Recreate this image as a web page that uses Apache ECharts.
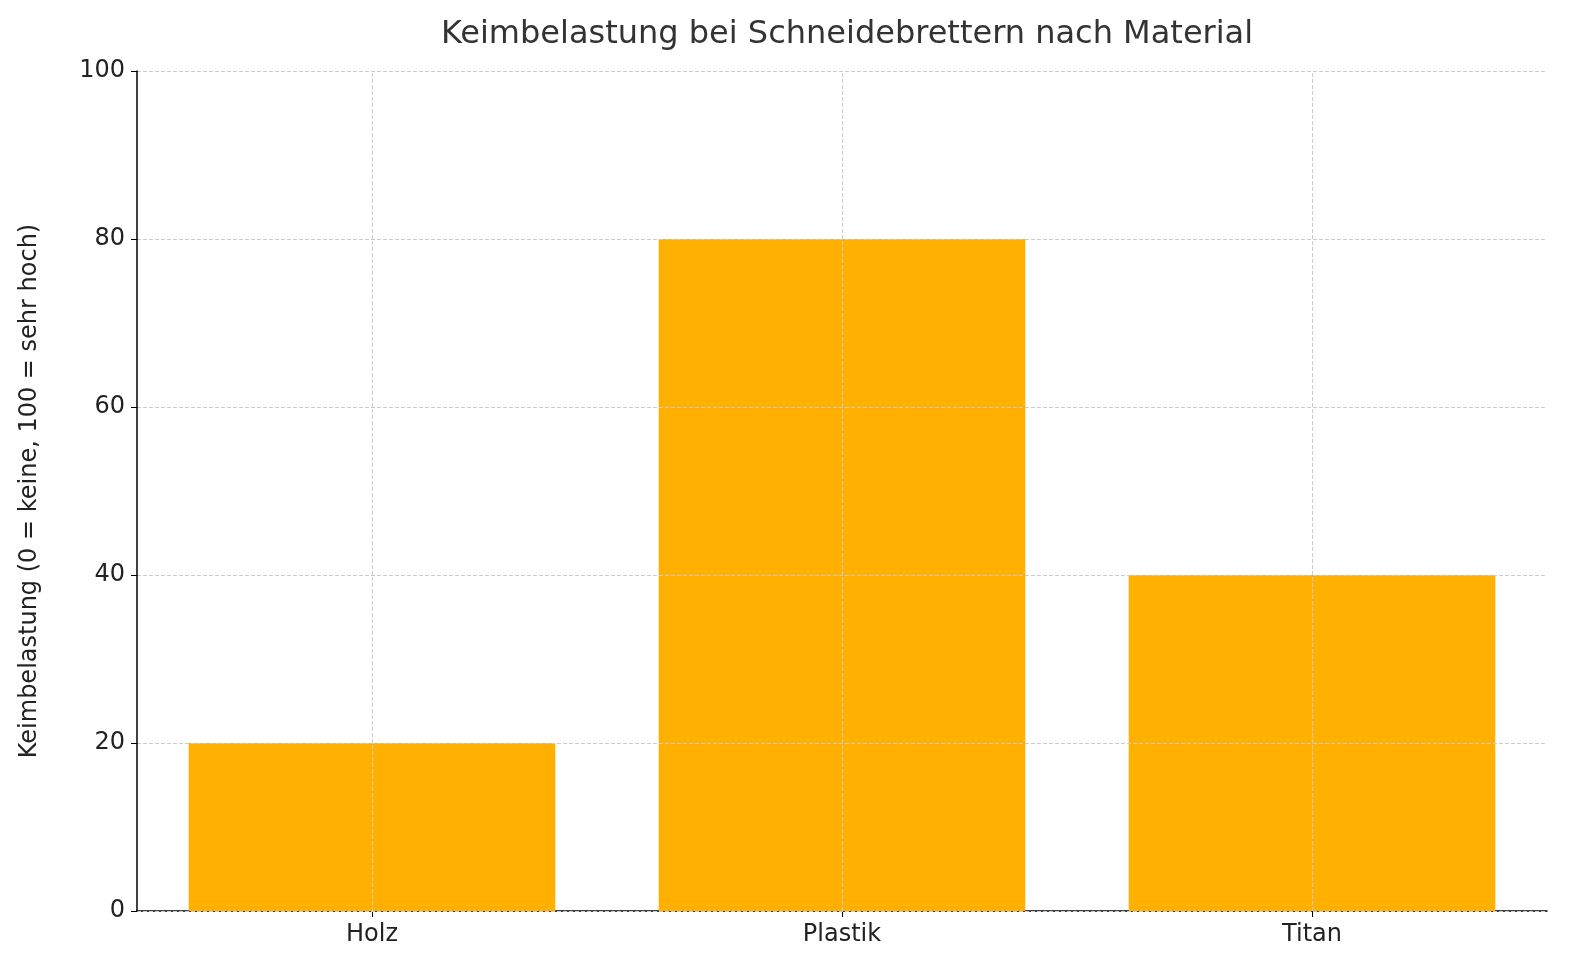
<!DOCTYPE html><html><head><meta charset="utf-8">
<script src="https://cdn.jsdelivr.net/npm/echarts@6/dist/echarts.min.js"></script>
<style>html,body{margin:0;background:#fff}#c{width:1580px;height:980px}</style></head><body><div id="c"></div>
<script>
const categories=['Holz','Plastik','Titan'];
const values=[20,80,40];
const yTicks={min:0,max:100,interval:20};
const chart=echarts.init(document.getElementById('c'));
const font='DejaVu Sans';
chart.setOption({
 animation:false,
 title:{text:'Keimbelastung bei Schneidebrettern nach Material',left:842,top:14,textAlign:'center',textStyle:{fontFamily:font,fontSize:32,fontWeight:'normal',color:'#333'}},
 grid:{left:137,right:33,top:71,bottom:69},
 xAxis:{type:'category',data:categories,axisLine:{lineStyle:{color:'#000',width:1.5}},axisTick:{show:true,alignWithLabel:true,length:6,lineStyle:{color:'#000'}},axisLabel:{fontFamily:font,fontSize:24,color:'#222',margin:12}},
 yAxis:{type:'value',...yTicks,z:3,name:'Keimbelastung (0 = keine, 100 = sehr hoch)',nameLocation:'middle',nameGap:95,nameTextStyle:{fontFamily:font,fontSize:24,color:'#222'},
  axisLine:{show:true,lineStyle:{color:'#000',width:1.5}},axisTick:{show:true,length:6,lineStyle:{color:'#000'}},
  axisLabel:{fontFamily:font,fontSize:24,color:'#222',margin:12},
  splitLine:{lineStyle:{type:'dashed',color:'#ccc',width:1}}},
 series:[{type:'bar',data:values,barCategoryGap:'22%',itemStyle:{color:'#FFB000'},
  markLine:{silent:true,symbol:'none',label:{show:false},lineStyle:{type:'dashed',color:'#ccc',width:1},
   data:categories.map(c=>({xAxis:c}))}}]
});
</script></body></html>
